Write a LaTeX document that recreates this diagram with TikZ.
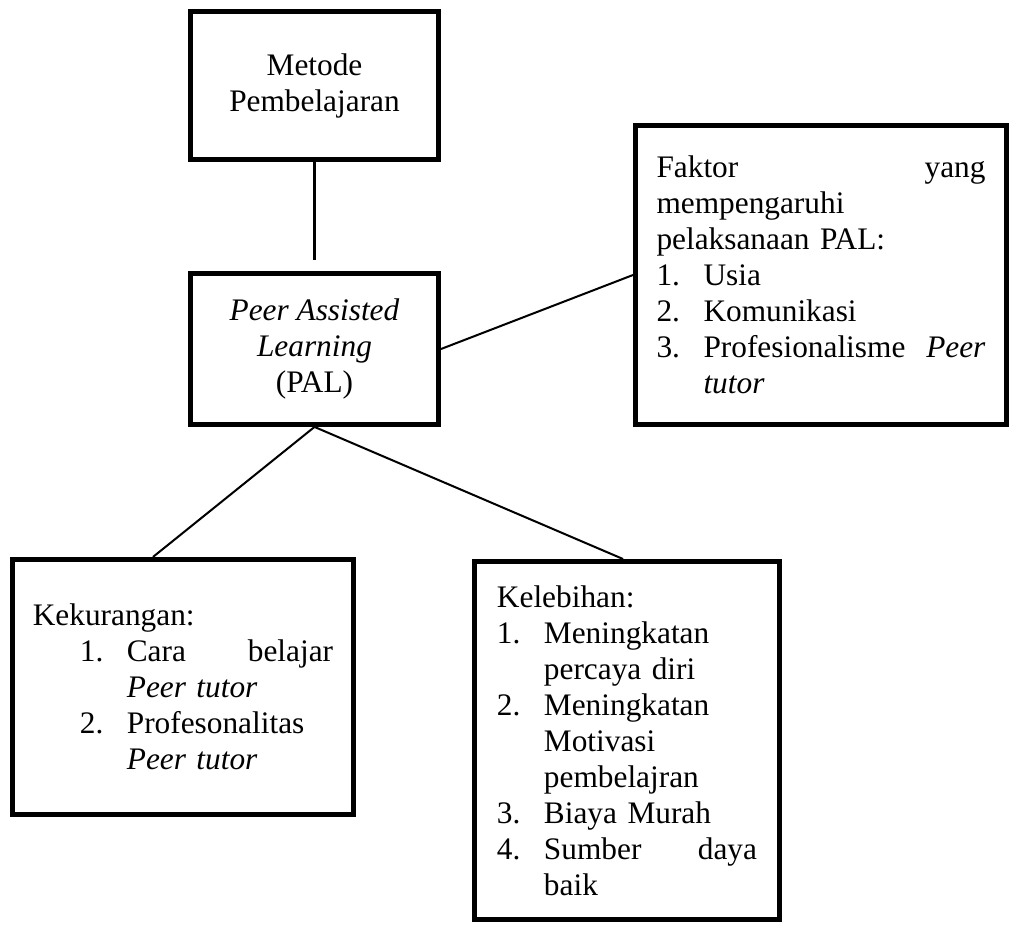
\documentclass[tikz,border=0pt]{standalone}
\usepackage{fontspec}
\setmainfont{Liberation Serif}
\tikzset{
  kotak/.style={draw,line width=1.9pt,rectangle,inner sep=0pt,font=\fontsize{12}{13.8}\selectfont},
  garis/.style={line width=0.77pt}
}
\newcommand{\nomor}[1]{\makebox[18pt][l]{#1.}}
\newcommand{\sisip}{\hspace*{18pt}}
\begin{document}
\begin{tikzpicture}[x=0.383pt,y=-0.383pt]
\useasboundingbox (0,0) rectangle (1009,926);
%top boxes
\node[kotak,minimum width=95pt,minimum height=56.7pt,align=center](metode)at(314.5,85.5){Metode\\Pembelajaran};
\node[kotak,minimum width=95pt,minimum height=57.8pt,align=center](pal)at(314.5,349){\textit{Peer Assisted}\\\textit{Learning}\\(PAL)};
%factors
\node[kotak,minimum width=142.1pt,minimum height=114.5pt,text width=126pt,align=left](faktor)at(821,275){Faktor\hfill yang\\mempengaruhi\\pelaksanaan PAL:\\\nomor{1}Usia\\\nomor{2}Komunikasi\\\nomor{3}Profesionalisme\hfill\textit{Peer}\\\sisip\textit{tutor}};
%weaknesses
\node[kotak,minimum width=130.6pt,minimum height=97.7pt,text width=115pt,align=left](kurang)at(183,687){Kekurangan:\\\sisip\nomor{1}Cara\hfill belajar\\\sisip\sisip\textit{Peer tutor}\\\sisip\nomor{2}Profesonalitas\\\sisip\sisip\textit{Peer tutor}};
%strengths
\node[kotak,minimum width=116.8pt,minimum height=137.1pt,text width=99.6pt,align=left](lebih)at(627,740.5){Kelebihan:\\\nomor{1}Meningkatan\\\sisip percaya diri\\\nomor{2}Meningkatan\\\sisip Motivasi\\\sisip pembelajran\\\nomor{3}Biaya Murah\\\nomor{4}Sumber\hfill daya\\\sisip baik};
%connectors
\draw[garis,shorten >=4.4pt](metode)--(pal);
\draw[garis](pal.east)--(faktor.west);
\draw[garis](pal.south)--([xshift=-11.5pt]kurang.north);
\draw[garis](pal.south)--([xshift=-1.5pt]lebih.north);
\end{tikzpicture}
\end{document}
